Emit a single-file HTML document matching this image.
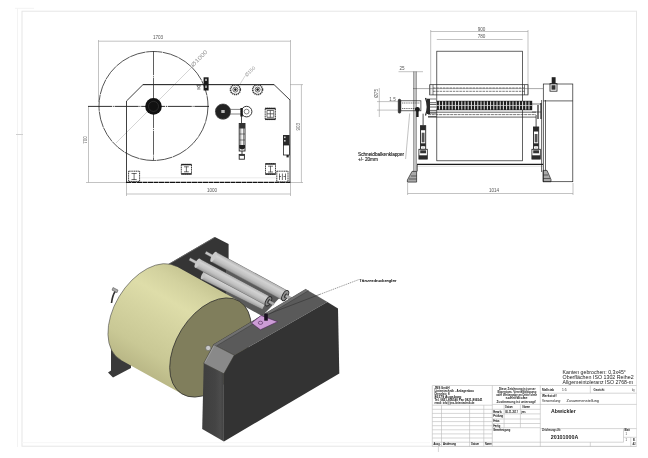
<!DOCTYPE html>
<html><head><meta charset="utf-8">
<style>
html,body{margin:0;padding:0;background:#fff;width:648px;height:458px;overflow:hidden}
svg{display:block;font-family:"Liberation Sans",sans-serif;will-change:transform;filter:blur(0.3px)}
</style></head>
<body>
<svg width="648" height="458" viewBox="0 0 648 458">
<defs>
<linearGradient id="rollg" gradientUnits="userSpaceOnUse" x1="176.66" y1="266.46" x2="120.84" y2="360.04">
<stop offset="0" stop-color="#c8c794"/>
<stop offset="0.12" stop-color="#d3d29f"/>
<stop offset="0.3" stop-color="#dedda9"/>
<stop offset="0.5" stop-color="#d5d4a1"/>
<stop offset="0.8" stop-color="#c9c895"/>
<stop offset="1" stop-color="#b9b786"/>
</linearGradient>
<linearGradient id="rlr" gradientUnits="objectBoundingBox" x1="0" y1="0" x2="0" y2="1">
<stop offset="0" stop-color="#666"/>
<stop offset="0.08" stop-color="#b8b8b8"/>
<stop offset="0.3" stop-color="#d2d2d2"/>
<stop offset="0.65" stop-color="#c0c0c0"/>
<stop offset="0.9" stop-color="#a2a2a2"/>
<stop offset="1" stop-color="#6a6a6a"/>
</linearGradient>
<linearGradient id="sideg" gradientUnits="userSpaceOnUse" x1="202" y1="0" x2="224" y2="0">
<stop offset="0" stop-color="#3e3e3e"/>
<stop offset="0.6" stop-color="#444"/>
<stop offset="0.85" stop-color="#4c4c4c"/>
<stop offset="1" stop-color="#404040"/>
</linearGradient>
</defs>

<!-- ============ FRAME ============ -->
<g fill="none" stroke="#e6e6e6" stroke-width="1">
<rect x="22" y="11.2" width="614.5" height="435"/>
</g>
<g fill="none" stroke="#f3f3f3" stroke-width="1">
<line x1="17.5" y1="8" x2="17.5" y2="447"/>
<line x1="15" y1="8.3" x2="34" y2="8.3"/>
<line x1="22" y1="442.7" x2="430" y2="442.7" stroke="#f7f7f7"/>
</g>
<line x1="16" y1="134.5" x2="23" y2="134.5" stroke="#cfcfcf" stroke-width="1"/>

<!-- ============ FRONT VIEW (top-left) ============ -->
<g id="front">
<!-- dims -->
<g stroke="#9a9a9a" stroke-width="0.6" fill="none">
<line x1="98.5" y1="41.2" x2="290.5" y2="41.2"/>
<line x1="98.5" y1="40" x2="98.5" y2="102"/>
<line x1="290.5" y1="40" x2="290.5" y2="100"/>
<line x1="88.5" y1="106.5" x2="88.5" y2="182.5"/>
<line x1="86" y1="182.5" x2="126" y2="182.5"/>
<line x1="126.5" y1="194" x2="290.5" y2="194"/>
<line x1="126.5" y1="183" x2="126.5" y2="196"/>
<line x1="290.5" y1="183" x2="290.5" y2="196"/>
<line x1="301.4" y1="84.6" x2="301.4" y2="182.5"/>
<line x1="290" y1="84.6" x2="303" y2="84.6"/>
<line x1="291" y1="182.5" x2="303" y2="182.5"/>
<line x1="116" y1="143" x2="193" y2="66" stroke="#b8b8b8"/>
<line x1="239.5" y1="85" x2="245" y2="76" stroke="#b8b8b8"/>
</g>
<g fill="#555" font-size="4.6" text-anchor="middle">
<text x="158" y="39">1703</text>
<text x="212" y="192">1000</text>
<text transform="translate(86.5,140) rotate(-90)">700</text>
<text transform="translate(300,126.7) rotate(-90)">903</text>
<text transform="translate(193.2,67.2) rotate(-46)" fill="#999" font-size="5.6" text-anchor="start" textLength="21" lengthAdjust="spacingAndGlyphs">Ø1000</text>
<text transform="translate(246.8,77) rotate(-45)" fill="#999" font-size="5" text-anchor="start" textLength="12.5" lengthAdjust="spacingAndGlyphs">Ø150</text>
</g>
<!-- big circle -->
<circle cx="153.5" cy="106" r="54.5" fill="none" stroke="#2a2a2a" stroke-width="0.8" stroke-dasharray="16 0.6"/>
<!-- center lines -->
<line x1="153.5" y1="51" x2="153.5" y2="160.5" stroke="#2a2a2a" stroke-width="0.75" stroke-dasharray="24 0.8 1 0.8"/>
<line x1="88" y1="106.4" x2="209" y2="106.4" stroke="#1a1a1a" stroke-width="0.9" stroke-dasharray="24 0.8 1 0.8"/>
<!-- hub -->
<circle cx="153.5" cy="106.4" r="8.3" fill="#111"/>
<circle cx="153.5" cy="106.4" r="5" fill="none" stroke="#444" stroke-width="0.5"/>
<!-- machine outline -->
<polyline points="126.5,182.5 126.5,101 143,84.6 274,84.6 290,100 290,182.5" fill="none" stroke="#2a2a2a" stroke-width="0.9"/>
<line x1="126" y1="182.4" x2="290.5" y2="182.4" stroke="#111" stroke-width="1.3" stroke-dasharray="5 0.5"/>
<line x1="143" y1="84.6" x2="274" y2="84.6" stroke="#2a2a2a" stroke-width="0.85"/>
<!-- sensor -->
<rect x="203.6" y="77.3" width="5" height="13.2" fill="#1a1a1a"/>
<rect x="205.3" y="78.8" width="1.4" height="2.2" fill="#ddd"/>
<rect x="205" y="85.5" width="2" height="2.5" fill="#999"/>
<path d="M196.8,85.6 L200.6,85.6 L198.7,88.2 Z M197,89 h3.4" fill="none" stroke="#333" stroke-width="0.6"/>
<!-- small rollers -->
<g fill="none" stroke="#444">
<circle cx="235.4" cy="89.6" r="4.9" stroke-width="1.6" stroke-dasharray="1.3 0.6" stroke="#3a3a3a"/>
<circle cx="235.4" cy="89.6" r="2.5" stroke-width="0.8"/>
<circle cx="257.6" cy="89.6" r="4.9" stroke-width="1.6" stroke-dasharray="1.3 0.6" stroke="#3a3a3a"/>
<circle cx="257.6" cy="89.6" r="2.5" stroke-width="0.8"/>
</g>
<circle cx="235.4" cy="89.6" r="1.3" fill="#222"/>
<circle cx="257.6" cy="89.6" r="1.3" fill="#222"/>
<!-- dancer -->
<circle cx="223" cy="111.6" r="7.9" fill="#222"/>
<circle cx="223" cy="111.6" r="7.6" fill="none" stroke="#777" stroke-width="1" stroke-dasharray="0.8 0.8"/>
<rect x="221.3" y="110" width="3.4" height="3" fill="#bbb"/>
<circle cx="246.6" cy="111.6" r="5.3" fill="none" stroke="#222" stroke-width="0.9"/>
<circle cx="246.6" cy="111.6" r="2.4" fill="none" stroke="#333" stroke-width="0.6"/>
<g stroke="#333" stroke-width="0.6">
<line x1="230.5" y1="109.4" x2="242" y2="109.4"/>
<line x1="230.5" y1="114" x2="242" y2="114"/>
</g>
<rect x="240.4" y="108" width="2.4" height="8.5" fill="#1a1a1a"/>
<!-- cylinder -->
<line x1="241.5" y1="116" x2="241.5" y2="123.5" stroke="#222" stroke-width="0.8"/>
<rect x="239.2" y="123.5" width="5.8" height="27.5" fill="#fff" stroke="#222" stroke-width="0.9"/>
<rect x="239.2" y="123.5" width="5.8" height="5" fill="#333"/>
<g stroke="#333" stroke-width="0.6">
<line x1="240.8" y1="128" x2="240.8" y2="146"/>
<line x1="243.4" y1="128" x2="243.4" y2="146"/>
<line x1="239.5" y1="134" x2="245" y2="134"/>
<line x1="239.5" y1="140" x2="245" y2="140"/>
</g>
<path d="M239.2,145 h5.8 v3 q-2.9,3 -5.8,0 z" fill="#222"/>
<line x1="242" y1="151" x2="242" y2="154.4" stroke="#222" stroke-width="0.9"/>
<rect x="239.2" y="154.4" width="5.2" height="4.8" fill="#fff" stroke="#222" stroke-width="0.9"/>
<rect x="239.2" y="154.4" width="5.2" height="1.5" fill="#333"/>
<!-- boxes -->
<g fill="none" stroke="#2a2a2a" stroke-width="0.9" stroke-dasharray="1.3 0.5">
<rect x="128.6" y="171.2" width="11" height="10.2"/>
<rect x="181.3" y="164.4" width="10.2" height="9.7"/>
<rect x="265.2" y="108.2" width="10.2" height="11.4"/>
<rect x="265.5" y="163.6" width="10" height="10.8"/>
<rect x="276.8" y="171.2" width="11.2" height="10.8"/>
</g>
<g stroke="#222" stroke-width="1.4">
<line x1="181.3" y1="164.6" x2="191.5" y2="164.6"/>
<line x1="181.3" y1="173.9" x2="191.5" y2="173.9"/>
<line x1="265.2" y1="108.6" x2="275.4" y2="108.6"/>
<line x1="265.2" y1="119.2" x2="275.4" y2="119.2"/>
<line x1="265.5" y1="164" x2="275.5" y2="164"/>
<line x1="265.5" y1="174" x2="275.5" y2="174"/>
</g>
<g stroke="#333" stroke-width="0.7" fill="none">
<path d="M134.1,173 v7 M131.5,173.5 h5.2 M131.5,179.5 h5.2 M186.4,166.5 v5.5 M184,166.8 h4.8 M184,171.8 h4.8"/>
<path d="M270.3,110.5 v7 M267,113.8 h6.8 M267,110.5 h6.8 v6.8 h-6.8z"/>
<path d="M270.5,165.8 v6.5 M268,166.2 h5 M268,172 h5"/>
<path d="M282.4,173.5 v6.5 M279.5,173.5 v6.5 M285.5,173.5 v6.5 M279,176.5 h2 M283.5,176.5 h2"/>
</g>
<!-- right device -->
<rect x="283" y="135" width="6.6" height="10" fill="#2a2a2a"/>
<rect x="284" y="136.5" width="1.6" height="1.6" fill="#ccc"/>
<rect x="284" y="140" width="1.6" height="1.6" fill="#ccc"/>
<rect x="283.4" y="145" width="6" height="10" fill="#fff" stroke="#222" stroke-width="0.8"/>
<rect x="286.5" y="155" width="2.2" height="2.4" fill="#222"/>
<line x1="140" y1="177.8" x2="276" y2="177.8" stroke="#d8d8d8" stroke-width="0.5"/>
</g>

<!-- ============ SIDE VIEW (top-right) ============ -->
<g id="side">
<g stroke="#9a9a9a" stroke-width="0.6" fill="none">
<line x1="430.7" y1="31.5" x2="528" y2="31.5"/>
<line x1="436.8" y1="39.5" x2="522.6" y2="39.5"/>
<line x1="430.7" y1="30" x2="430.7" y2="94"/>
<line x1="528" y1="30" x2="528" y2="94"/>
<line x1="407.6" y1="193.5" x2="573" y2="193.5"/>
<line x1="407.6" y1="183" x2="407.6" y2="195"/>
<line x1="573" y1="183" x2="573" y2="195"/>
<line x1="398.5" y1="71.7" x2="423" y2="71.7"/>
<line x1="379.3" y1="88" x2="379.3" y2="117"/>
<line x1="377" y1="101.6" x2="398" y2="101.6"/>
<line x1="377" y1="110.1" x2="398" y2="110.1"/>
<line x1="405.6" y1="159" x2="409.7" y2="113.4"/>
</g>
<g fill="#555" font-size="4.6" text-anchor="middle">
<text x="481.5" y="30.5">900</text>
<text x="481.5" y="37.7">780</text>
<text x="402" y="70">25</text>
<text x="494" y="192.3">1014</text>
<text x="392.5" y="100.8">1.5</text>
<text transform="translate(378.4,93.4) rotate(-90)">Ø75</text>
</g>
<g fill="#1a1a1a" font-size="4.7" stroke="#1a1a1a" stroke-width="0.12">
<text x="358" y="156.2">Schneidbalkenklapper</text>
<text x="358" y="161">+/- 20mm</text>
</g>
<!-- roll rect -->
<rect x="436.8" y="51.2" width="85.8" height="109.6" fill="none" stroke="#222" stroke-width="0.7"/>
<!-- rollers lines -->
<g stroke="#222" fill="none">
<rect x="429.7" y="84.7" width="98.3" height="10.2" stroke-width="0.7"/>
<line x1="433" y1="88" x2="524.5" y2="88" stroke-width="0.6" stroke-dasharray="2.5 0.8"/>
<line x1="433" y1="91.3" x2="524.5" y2="91.3" stroke-width="0.6" stroke-dasharray="2.5 0.8"/>
<line x1="433" y1="84.7" x2="433" y2="94.9" stroke-width="0.6"/>
<line x1="524.5" y1="84.7" x2="524.5" y2="94.9" stroke-width="0.6"/>
<line x1="413" y1="88.6" x2="543" y2="88.6" stroke-width="0.5" stroke="#555"/>
</g>
<rect x="436.2" y="100.8" width="96" height="9.4" fill="#1e1e1e"/>
<path d="M436.2,101.4v8.2M439.4,101.4v8.2M442.6,101.4v8.2M445.8,101.4v8.2M449.0,101.4v8.2M452.2,101.4v8.2M455.4,101.4v8.2M458.6,101.4v8.2M461.8,101.4v8.2M465.0,101.4v8.2M468.2,101.4v8.2M471.4,101.4v8.2M474.6,101.4v8.2M477.8,101.4v8.2M481.0,101.4v8.2M484.2,101.4v8.2M487.4,101.4v8.2M490.6,101.4v8.2M493.8,101.4v8.2M497.0,101.4v8.2M500.2,101.4v8.2M503.4,101.4v8.2M506.6,101.4v8.2M509.8,101.4v8.2M513.0,101.4v8.2M516.2,101.4v8.2M519.4,101.4v8.2M522.6,101.4v8.2M525.8,101.4v8.2M529.0,101.4v8.2" stroke="#fff" stroke-width="0.9"/>
<line x1="436.2" y1="105.5" x2="532" y2="105.5" stroke="#ddd" stroke-width="0.7"/>
<g stroke="#222" fill="none">
<line x1="428" y1="112.2" x2="536" y2="112.2" stroke-width="0.7"/>
<line x1="428" y1="114.6" x2="536" y2="114.6" stroke-width="0.6" stroke-dasharray="3 0.7"/>
<line x1="428" y1="117.1" x2="536" y2="117.1" stroke-width="0.7"/>
<line x1="426" y1="99" x2="436" y2="99" stroke-width="0.6"/>
<line x1="532" y1="104" x2="541" y2="104" stroke-width="0.6"/>
<line x1="532" y1="112" x2="541" y2="112" stroke-width="0.6"/>
<path d="M538,105 v14 M541,103 v16" stroke-width="1.2"/>
</g>
<!-- base -->
<line x1="417" y1="164.3" x2="543" y2="164.3" stroke="#1a1a1a" stroke-width="1.2"/>
<line x1="417" y1="166.2" x2="543" y2="166.2" stroke="#bbb" stroke-width="0.5"/>

<!-- posts -->
<g stroke="#222" stroke-width="0.7" fill="none">
<line x1="413.9" y1="71.5" x2="413.9" y2="172"/>
<line x1="416.1" y1="71.5" x2="416.1" y2="172"/>
<line x1="417.3" y1="164.9" x2="417.3" y2="171.4"/>
<line x1="541.6" y1="100" x2="541.6" y2="172"/>
<line x1="545.5" y1="100" x2="545.5" y2="172"/>
<polygon points="412,171.4 416.6,171.4 416.6,182.1 407.4,182.1 407.4,180" fill="#aaa"/>
<path d="M411,176 h5.6 M409,179 h7.6" stroke-width="0.6"/>
<polygon points="543,170.4 547,170.4 551,179.5 551,181.7 543,181.7" fill="#aaa"/>
<path d="M543,175 h5 M543,178.5 h7" stroke-width="0.6"/>
<rect x="543.3" y="84" width="29.5" height="97.7"/>
<line x1="543.3" y1="100.9" x2="572.8" y2="100.9"/>
</g>
<rect x="551.7" y="77.2" width="3.9" height="6.6" fill="#222"/>
<rect x="550" y="83.6" width="7" height="7.6" fill="none" stroke="#222" stroke-width="0.8"/>
<rect x="551.5" y="85.2" width="4" height="4.5" fill="#333"/>
<!-- left shaft device -->
<g stroke="#222" stroke-width="0.7" fill="none">
<rect x="398.3" y="99.3" width="2.4" height="13.8" rx="1" fill="#333"/>
<rect x="400.7" y="100.8" width="20.2" height="10" />
<line x1="402" y1="103" x2="420" y2="103" stroke-dasharray="1.2 0.6" stroke-width="0.6"/>
<line x1="402" y1="108.5" x2="420" y2="108.5" stroke-dasharray="1.2 0.6" stroke-width="0.6"/>
<path d="M425.5,98 q3.5,8.5 0,17.5" stroke-width="1.2"/>
<rect x="427" y="99" width="3" height="15" fill="#2a2a2a" stroke="none"/>
<path d="M430,102.7 h6.5 M430,104.5 h6.5 M430,107 h6.5 M430,110.4 h6.5 M428,113.1 h8.5 M428,116.6 h8.5" stroke-width="0.7"/>
</g>
<circle cx="417.4" cy="109.3" r="2.4" fill="#1a1a1a"/>
<rect x="416.2" y="109" width="2.4" height="8" fill="#1a1a1a"/>
<!-- cylinders -->
<line x1="423.1" y1="113.7" x2="423.1" y2="125.7" stroke="#222" stroke-width="0.8"/>
<rect x="420.5" y="125.7" width="5.2" height="23.60000000000001" fill="#fff" stroke="#222" stroke-width="0.9"/>
<rect x="420.5" y="125.7" width="5.2" height="4.5" fill="#2a2a2a"/>
<rect x="421.7" y="132.7" width="2.8" height="9.600000000000009" fill="#555"/>
<rect x="420.5" y="143.3" width="5.2" height="3" fill="#2a2a2a"/>
<rect x="422.0" y="146.3" width="2.2" height="2" fill="#ddd"/>
<rect x="418.9" y="149.3" width="8.4" height="9.8" fill="#fff" stroke="#222" stroke-width="0.8"/>
<rect x="420.2" y="150.3" width="5.8" height="3" fill="#333"/>
<rect x="418.9" y="155.3" width="8.4" height="3.8" fill="#2a2a2a"/>
<line x1="536.1" y1="115" x2="536.1" y2="127" stroke="#222" stroke-width="0.8"/>
<rect x="533.5" y="127" width="5.2" height="22.30000000000001" fill="#fff" stroke="#222" stroke-width="0.9"/>
<rect x="533.5" y="127" width="5.2" height="4.5" fill="#2a2a2a"/>
<rect x="534.7" y="134" width="2.8" height="8.300000000000011" fill="#555"/>
<rect x="533.5" y="143.3" width="5.2" height="3" fill="#2a2a2a"/>
<rect x="535.0" y="146.3" width="2.2" height="2" fill="#ddd"/>
<rect x="531.9" y="149.3" width="8.4" height="9.8" fill="#fff" stroke="#222" stroke-width="0.8"/>
<rect x="533.2" y="150.3" width="5.8" height="3" fill="#333"/>
<rect x="531.9" y="155.3" width="8.4" height="3.8" fill="#2a2a2a"/>
</g>

<!-- ============ 3D VIEW ============ -->
<g id="iso">
<!-- back plate -->
<polygon points="214.9,236.9 228.6,244 228.6,270 238,290 236,301 207,290 180,282 165,266 169.9,263.2" fill="#353535"/>
<line x1="214.4" y1="237.6" x2="169.5" y2="263.8" stroke="#6a6a6a" stroke-width="0.9"/>
<!-- leg -->
<polygon points="111,348 131,356 131,368 113,377.5 108,372.5 111,370.6" fill="#3a3a3a"/>
<!-- shaft at left -->
<path d="M111.5,303 q1,-8 4,-12" fill="none" stroke="#333" stroke-width="1.6"/>
<path d="M113,287.5 l5,2.6 l-1,2.6 l-5,-2.6z" fill="#aaa" stroke="#444" stroke-width="0.5"/>
<!-- rollers -->
<g>
<polygon points="226,259 286,291 270,308 262,316 226,296" fill="#5a5a5a"/>
<g transform="translate(203.3,275.3) rotate(26.5)">
<rect x="0" y="-4.4" width="68" height="8.8" fill="url(#rlr)"/>
<ellipse cx="0" cy="0" rx="1.6" ry="4.4" fill="#c4c4c4"/>
</g>
<g transform="translate(197.5,263.2) rotate(28.2)">
<rect x="-9" y="-1.4" width="10" height="2.8" fill="#c4c4c4" stroke="#555" stroke-width="0.3"/>
<rect x="0" y="-5.1" width="80.5" height="10.2" fill="url(#rlr)"/>
<ellipse cx="0" cy="0" rx="1.9" ry="5.1" fill="#cacaca"/>
<ellipse cx="80.5" cy="0" rx="2.5" ry="5.1" fill="#8a8a8a" stroke="#2a2a2a" stroke-width="0.9"/>
<ellipse cx="81" cy="0" rx="1.3" ry="2.6" fill="#333"/>
<rect x="81" y="-1.3" width="6" height="2.6" fill="#aaa"/>
</g>
<g transform="translate(213.5,256.8) rotate(28.4)">
<rect x="-9" y="-1.4" width="10" height="2.8" fill="#c4c4c4" stroke="#555" stroke-width="0.3"/>
<rect x="0" y="-5.6" width="81.5" height="11.2" fill="url(#rlr)"/>
<ellipse cx="0" cy="0" rx="2" ry="5.6" fill="#cacaca"/>
<ellipse cx="81.5" cy="0" rx="2.6" ry="5.6" fill="#8f8f8f" stroke="#2a2a2a" stroke-width="0.9"/>
<ellipse cx="82" cy="0" rx="1.3" ry="2.6" fill="#333"/>
<rect x="82" y="-1.4" width="7.5" height="2.8" fill="#b0b0b0" stroke="#555" stroke-width="0.3"/>
</g>
</g>
<!-- roll -->
<g>
<path d="M 120.84,360.04 A 54.5 34 -58 0 1 176.66,266.46 L 238.41,300.71 L 182.59,394.29 Z" fill="url(#rollg)"/>
<path d="M 120.84,360.04 A 54.5 34 -58 0 1 176.66,266.46" fill="none" stroke="#444" stroke-width="0.6"/>
<ellipse cx="210.5" cy="347.5" rx="54.5" ry="34" transform="rotate(-58 210.5 347.5)" fill="#807e5c" stroke="#2a2a2a" stroke-width="0.7"/>
</g>
<!-- box -->
<g>
<polygon points="213.6,344.6 305.9,289.2 327.3,301.9 234.3,355.2" fill="#5a5a5a"/>
<polygon points="305.9,289.2 316.6,295.8 338,308.5 327.3,301.9" fill="#3e3e3e"/>
<polygon points="213.6,344.6 234.3,355.2 223.9,373.8 203.7,363.4" fill="#898989" stroke="#2e2e2e" stroke-width="0.5"/>
<line x1="204.8" y1="362.6" x2="214.2" y2="345.6" stroke="#a8a8a8" stroke-width="0.7"/>
<polygon points="203.7,363.4 223.9,373.8 223.9,441.5 202.2,429" fill="url(#sideg)"/>
<polygon points="223.9,373.8 234.3,355.2 327.3,301.9 338,308.5 339.3,373.6 223.9,441.5" fill="#333"/>
<line x1="213.6" y1="344.6" x2="305.9" y2="289.2" stroke="#2a2a2a" stroke-width="0.6"/>
<polygon points="213.6,344.6 305.9,289.2 308.6,290.6 216.3,346" fill="#707070"/>
<line x1="216.3" y1="346" x2="308.6" y2="290.6" stroke="#3a3a3a" stroke-width="0.5"/>
<!-- purple plate -->
<polygon points="251.5,323 261,315.5 277.7,321.7 260.4,329.8" fill="#cc9cd6" stroke="#4a2456" stroke-width="0.6"/>
<ellipse cx="260.5" cy="322.8" rx="2.2" ry="1.6" fill="none" stroke="#4a2456" stroke-width="0.6"/>
<rect x="264.2" y="313.5" width="3.6" height="7.2" fill="#1a1020"/>
<!-- small knob at left side of box -->
<circle cx="208.2" cy="348" r="2.6" fill="#c8c8c8" stroke="#555" stroke-width="0.5"/>
</g>
<!-- leader -->
<line x1="358.5" y1="279.7" x2="320.3" y2="294.2" stroke="#333" stroke-width="0.5" stroke-dasharray="1.2 0.8"/>
<line x1="320.3" y1="294.2" x2="267" y2="314.5" stroke="#2a2a2a" stroke-width="0.5"/>
<text x="359" y="282" font-size="4.4" fill="#1a1a1a" stroke="#1a1a1a" stroke-width="0.15" textLength="37.5" lengthAdjust="spacingAndGlyphs">Tänzerdruckregler</text>
</g>

<!-- ============ TITLE BLOCK ============ -->
<g id="title">
<g fill="#222" font-size="5.4" lengthAdjust="spacingAndGlyphs">
<text x="562.6" y="373.6" textLength="63.3" lengthAdjust="spacingAndGlyphs">Kanten gebrochen: 0,3x45°</text>
<text x="562.6" y="379.1" textLength="71" lengthAdjust="spacingAndGlyphs">Oberflächen ISO 1302 Reihe2</text>
<text x="562.6" y="383.8" textLength="70.4" lengthAdjust="spacingAndGlyphs">Allgemeintoleranz ISO 2768-m</text>
</g>
<g stroke="#bbb" stroke-width="0.6" fill="none">
<line x1="432.3" y1="385.5" x2="636.5" y2="385.5"/>
<line x1="432.3" y1="385.5" x2="432.3" y2="446.5"/>
<line x1="492.3" y1="385.5" x2="492.3" y2="446.5"/>
<line x1="540.3" y1="385.5" x2="540.3" y2="446.5"/>
<line x1="432.3" y1="405.2" x2="492.3" y2="405.2"/>
<line x1="492.3" y1="404.4" x2="636.5" y2="404.4"/>
<line x1="540.3" y1="393.2" x2="636.5" y2="393.2"/>
<line x1="590.3" y1="385.5" x2="590.3" y2="393.2"/>
<line x1="540.3" y1="428.6" x2="636.5" y2="428.6"/>
<line x1="432.3" y1="442.2" x2="623.5" y2="442.2"/>
<line x1="432.3" y1="446.5" x2="636.5" y2="446.5"/>
<line x1="623.5" y1="428.6" x2="623.5" y2="442.2"/>
<line x1="623.5" y1="437.3" x2="636.5" y2="437.3"/>
<line x1="630.8" y1="437.3" x2="630.8" y2="446.5"/>
<line x1="590.3" y1="442.2" x2="590.3" y2="446.5"/>
<line x1="492.3" y1="409.3" x2="540.3" y2="409.3"/>
<line x1="492.3" y1="413.9" x2="540.3" y2="413.9"/>
<line x1="492.3" y1="419" x2="540.3" y2="419"/>
<line x1="492.3" y1="423.5" x2="540.3" y2="423.5"/>
<line x1="492.3" y1="427.7" x2="540.3" y2="427.7"/>
<line x1="504.1" y1="404.4" x2="504.1" y2="427.7"/>
<line x1="520.4" y1="404.4" x2="520.4" y2="427.7"/>
<line x1="432.3" y1="409.3" x2="492.3" y2="409.3"/>
<line x1="432.3" y1="413.4" x2="492.3" y2="413.4"/>
<line x1="432.3" y1="417.5" x2="492.3" y2="417.5"/>
<line x1="432.3" y1="421.6" x2="492.3" y2="421.6"/>
<line x1="432.3" y1="425.7" x2="492.3" y2="425.7"/>
<line x1="432.3" y1="429.8" x2="492.3" y2="429.8"/>
<line x1="432.3" y1="433.9" x2="492.3" y2="433.9"/>
<line x1="432.3" y1="438" x2="492.3" y2="438"/>
<line x1="441.5" y1="405.2" x2="441.5" y2="446.5"/>
<line x1="469.6" y1="405.2" x2="469.6" y2="446.5"/>
<line x1="483.8" y1="405.2" x2="483.8" y2="446.5"/>
<line x1="438.4" y1="446.5" x2="438.4" y2="452"/>
</g>
<g fill="#111" font-size="3" font-weight="bold">
<text x="434.5" y="388.6" textLength="15" lengthAdjust="spacingAndGlyphs">JMS GmbH</text>
<text x="434.5" y="392.1" textLength="39.4" lengthAdjust="spacingAndGlyphs">Linientechnik - Anlagenbau</text>
<text x="434.5" y="394.7" textLength="15" lengthAdjust="spacingAndGlyphs">Dieselstr. 8</text>
<text x="434.5" y="397.5" textLength="27" lengthAdjust="spacingAndGlyphs">86179 Augsburg</text>
<text x="434.5" y="400.6" textLength="48" lengthAdjust="spacingAndGlyphs">Tel. 0821-806540 Fax 0821-806541</text>
<text x="434.5" y="403.6" textLength="40" lengthAdjust="spacingAndGlyphs">email: info@jms-linientechnik.de</text>
</g>
<g fill="#222" font-size="3.1" font-weight="bold">
<text x="498.9" y="390.1" textLength="36.7" lengthAdjust="spacingAndGlyphs">Diese Zeichnung ist unser</text>
<text x="497.4" y="392.8" textLength="39" lengthAdjust="spacingAndGlyphs">Eigentum. Vervielfältigung</text>
<text x="496.2" y="396.3" textLength="40.9" lengthAdjust="spacingAndGlyphs">oder Weitergabe an Dritte ohne</text>
<text x="505.5" y="399.4" textLength="22" lengthAdjust="spacingAndGlyphs">schriftliche</text>
<text x="496.6" y="402.5" textLength="39.4" lengthAdjust="spacingAndGlyphs">Zustimmung ist untersagt!</text>
</g>
<g fill="#111" font-size="3" stroke="#111" stroke-width="0.08">
<text x="505.1" y="408.1" textLength="7.7" lengthAdjust="spacingAndGlyphs">Datum</text>
<text x="522.5" y="408.1" textLength="7.3" lengthAdjust="spacingAndGlyphs">Name</text>
<text x="493.2" y="413" textLength="9" lengthAdjust="spacingAndGlyphs">Bearb.</text>
<text x="505" y="413" textLength="13" lengthAdjust="spacingAndGlyphs">30.11.2017</text>
<text x="521.5" y="413" textLength="4" lengthAdjust="spacingAndGlyphs">jms</text>
<text x="493.2" y="417.3" textLength="10" lengthAdjust="spacingAndGlyphs">Prüfung</text>
<text x="493.2" y="422.3" textLength="6.5" lengthAdjust="spacingAndGlyphs">Entw.</text>
<text x="493.2" y="426.6" textLength="7" lengthAdjust="spacingAndGlyphs">Fertig</text>
<text x="493.2" y="431.3" textLength="17" lengthAdjust="spacingAndGlyphs">Genehmigung</text>
<text x="433.5" y="444.7" textLength="7" lengthAdjust="spacingAndGlyphs">Ausg.</text>
<text x="443" y="444.7" textLength="13" lengthAdjust="spacingAndGlyphs">Änderung</text>
<text x="471" y="444.7" textLength="8" lengthAdjust="spacingAndGlyphs">Datum</text>
<text x="485" y="444.7" textLength="6.5" lengthAdjust="spacingAndGlyphs">Name</text>
</g>
<g fill="#222" font-size="3" font-weight="bold">
<text x="541.9" y="390.5" textLength="12.3" lengthAdjust="spacingAndGlyphs">Maßstab</text>
<text x="593.6" y="390.5" textLength="10.8" lengthAdjust="spacingAndGlyphs">Gewicht</text>
<text x="541.9" y="396.7" textLength="14.6" lengthAdjust="spacingAndGlyphs">Werkstoff</text>
<text x="541.9" y="430.6" textLength="19.2" lengthAdjust="spacingAndGlyphs">Zeichnungs-Nr.</text>
<text x="624.4" y="430.6" textLength="5.4" lengthAdjust="spacingAndGlyphs">Blatt</text>
<text x="632.9" y="441.4" textLength="2.5" lengthAdjust="spacingAndGlyphs">Bl.</text>
<text x="632.6" y="445.4" textLength="3" lengthAdjust="spacingAndGlyphs">A2</text>
</g>
<g fill="#222" font-size="3">
<text x="561.9" y="390.5" textLength="4.6" lengthAdjust="spacingAndGlyphs">1:5</text>
<text x="632.1" y="390.5" textLength="2.4" lengthAdjust="spacingAndGlyphs">kg</text>
<text x="625.6" y="435" textLength="1.4" lengthAdjust="spacingAndGlyphs">1</text>
<text x="625.6" y="441.4" textLength="1.4" lengthAdjust="spacingAndGlyphs">1</text>
</g>
<g fill="#222" font-size="4">
<text x="541.9" y="402.4" textLength="19.2" lengthAdjust="spacingAndGlyphs">Verwendung:</text>
<text x="566.5" y="402.4" textLength="32.5" lengthAdjust="spacingAndGlyphs">Zusammenstellung</text>
</g>
<text x="551.1" y="413" font-size="5.4" font-weight="bold" fill="#222" textLength="24.7" lengthAdjust="spacingAndGlyphs">Abwickler</text>
<text x="550.7" y="439.2" font-size="6" font-weight="bold" fill="#222" textLength="27.7" lengthAdjust="spacingAndGlyphs">20101000A</text>
</g>
</svg>
</body></html>
